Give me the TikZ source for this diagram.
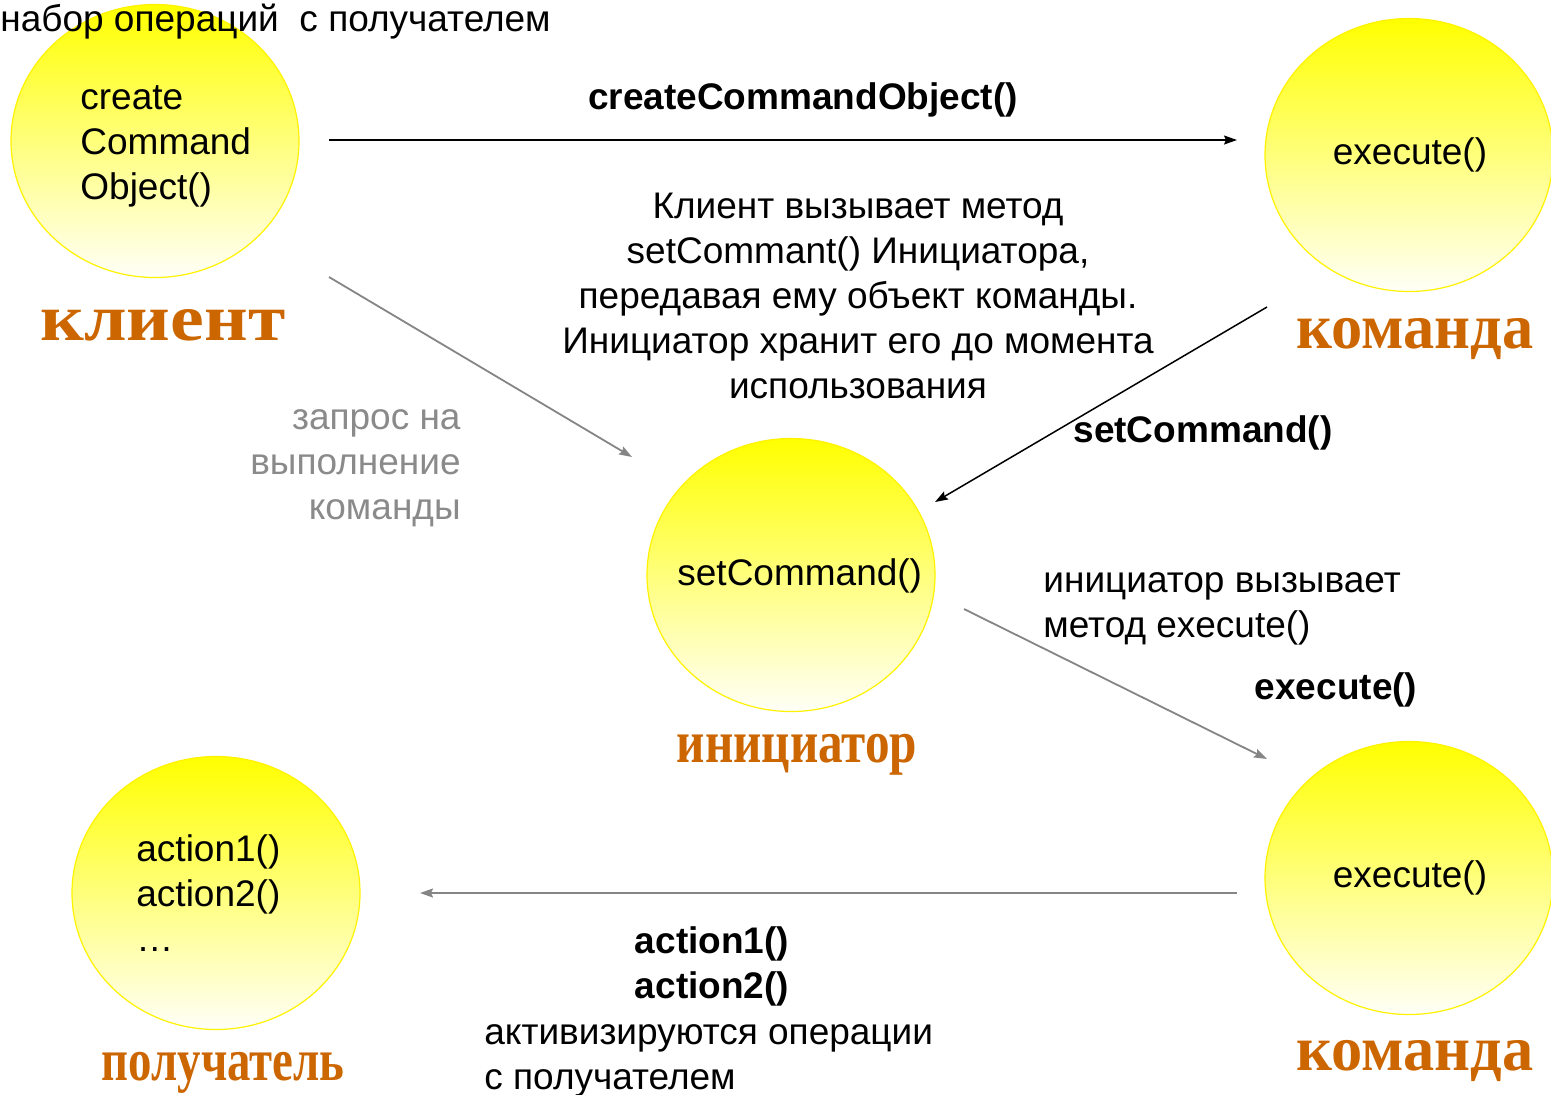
\documentclass[tikz,border=0pt]{standalone}
\usepackage{fontspec}
\setmainfont{Liberation Sans}
\newfontfamily\roleserif{Liberation Serif}
\usetikzlibrary{shapes.geometric,arrows.meta}
\definecolor{rolecolor}{HTML}{CC6600}
\definecolor{linegray}{HTML}{858585}
\definecolor{notegray}{HTML}{8A8A8A}

\begin{document}
\begin{tikzpicture}[x=0.5pt,y=-0.5pt,
  txt/.style={inner sep=0pt, font=\fontsize{18.5}{22.5}\selectfont},
  boldtxt/.style={inner sep=0pt, font=\fontsize{18.5}{22.5}\selectfont\bfseries},
  role/.style={inner sep=0pt, anchor=base, text=rolecolor,
    font=\fontsize{#1}{36}\selectfont\roleserif\bfseries},
  role/.default=32,
  obj/.style={ellipse, inner sep=0pt, minimum width=144pt, minimum height=136.5pt,
    draw=yellow, line width=0.6pt, top color=yellow, bottom color=yellow!3!white},
  callarrow/.style={line width=0.75pt, -{Stealth[length=6.5pt,width=4.5pt,inset=1pt]}},
  grayarrow/.style={linegray, line width=0.9pt, -{Stealth[length=6.5pt,width=4.5pt,inset=1pt]}},
]
\useasboundingbox (0,0) rectangle (1551,1094);

% participants
\node[obj] (client)   at (155,141) {};
\node[obj] (cmdA)     at (1409,155) {};
\node[obj] (invoker)  at (791,575) {};
\node[obj] (cmdB)     at (1409,878) {};
\node[obj] (receiver) at (216,893) {};

% operations inside the participants (multi-line nodes: base = last line)
\node[txt, align=left, anchor=base west] (clientops) at (80,199) {create\\Command\\Object()};
\node[txt, anchor=base] (cmdAop) at (1410,164) {execute()};
\node[txt, anchor=base west] (invop) at (677,585) {setCommand()};
\node[txt, anchor=base] (cmdBop) at (1410,887) {execute()};
\node[txt, align=left, anchor=base west] (recvops) at (136,951) {action1()\\action2()\\…};

% participant names
\node[role=33] (clientname) at (163,340) {\scalebox{1.15}[1]{клиент}};
\node[role]    (cmdAname)   at (1415,348) {\scalebox{0.975}[1]{команда}};
\node[role=30] (invname)    at (797,762) {\scalebox{0.82}[1]{инициатор}};
\node[role]    (cmdBname)   at (1415,1070) {\scalebox{0.975}[1]{команда}};
\node[role=30] (recvname)   at (223,1080) {\scalebox{0.78}[1]{получатель}};

% messages
\coordinate (a1s) at (329,140);  \coordinate (a1e) at (1237,140);
\coordinate (a2s) at (329,277);  \coordinate (a2e) at (632,457);
\coordinate (a3s) at (1267,307); \coordinate (a3e) at (935,502);
\coordinate (a4s) at (964,609);  \coordinate (a4e) at (1267,759);
\coordinate (a5s) at (1237,893); \coordinate (a5e) at (420,893);

\draw[callarrow] (a1s) -- (a1e);
\draw[grayarrow] (a2s) -- (a2e);
\draw[callarrow] (a3s) -- (a3e);
\draw[grayarrow] (a4s) -- (a4e);
\draw[grayarrow] (a5s) -- (a5e);

% labels
\node[txt, anchor=base west] (setlabel) at (0,31) {набор операций\ \ с получателем};
\node[boldtxt, anchor=base] (createlbl) at (803,109) {createCommandObject()};
\node[txt, align=center, anchor=base] (clientnote) at (858,398)
  {Клиент вызывает метод\\setCommant() Инициатора,\\передавая ему объект команды.\\Инициатор хранит его до момента\\использования};
\node[txt, text=notegray, align=right, anchor=base east] (requestnote) at (461,519)
  {запрос на\\выполнение\\команды};
\node[boldtxt, anchor=base] (setlbl) at (1203,442) {setCommand()};
\node[txt, align=left, anchor=base west] (invnote) at (1043,637)
  {инициатор вызывает\\метод execute()};
\node[boldtxt, anchor=base] (execlbl) at (1336,699) {execute()};
\node[boldtxt, align=center, anchor=base] (actionlbl) at (712,998) {action1()\\action2()};
\node[txt, align=left, anchor=base west] (actionnote) at (484,1089)
  {активизируются операции\\с получателем};
\end{tikzpicture}
\end{document}
